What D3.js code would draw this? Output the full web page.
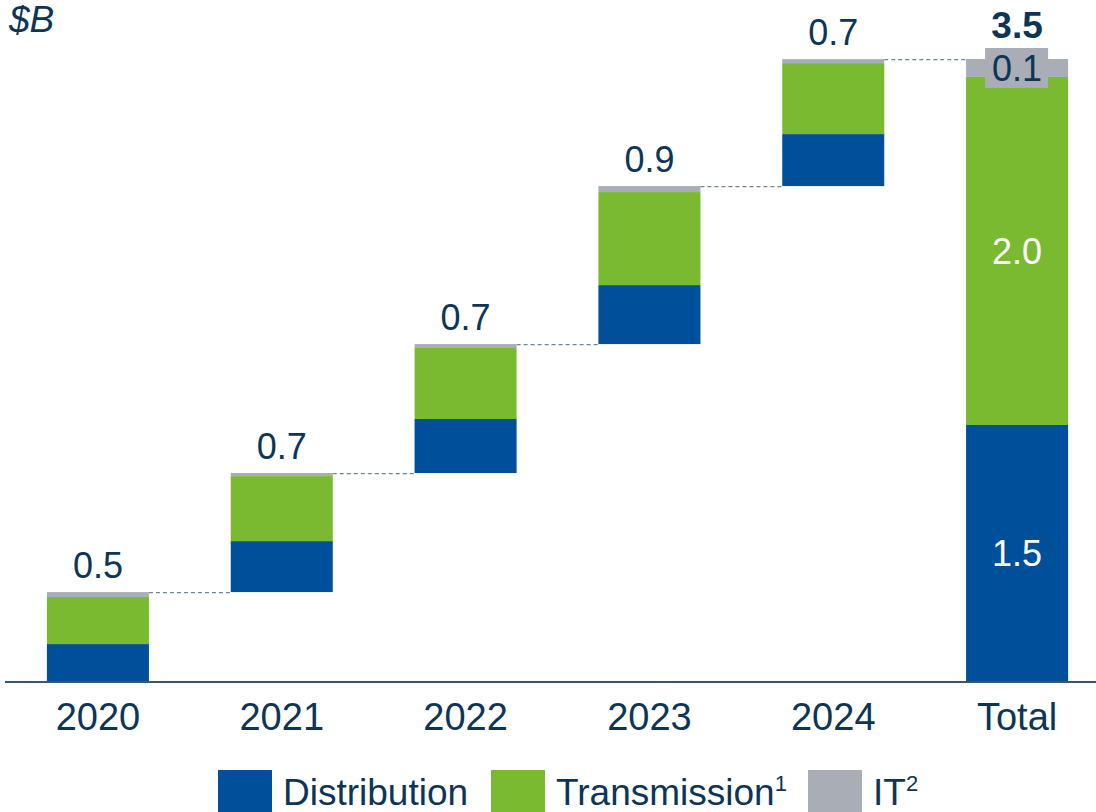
<!DOCTYPE html>
<html>
<head>
<meta charset="utf-8">
<script src="https://cdn.jsdelivr.net/npm/d3@7"></script>
<style>
  body { margin: 0; background: #fff; }
  svg text { font-family: "Liberation Sans", Arial, sans-serif; fill: #0c3557; }
</style>
</head>
<body>
<svg id="chart" width="1096" height="812"></svg>
<script>
// values ($B)
let categories = ["2020", "2021", "2022", "2023", "2024"];
let distribution = [0.216, 0.298, 0.316, 0.345, 0.304];
let transmission = [0.275, 0.380, 0.415, 0.544, 0.415];
let itSpend = [0.029, 0.018, 0.023, 0.035, 0.023];
let yearLabels = ["0.5", "0.7", "0.7", "0.9", "0.7"];

let totalName = "Total";
let totalValues = [1.497, 2.035, 0.105]; // distribution, transmission, IT
let totalSegLabels = ["1.5", "2.0", "0.1"];
let totalLabel = "3.5";

let seriesNames = ["Distribution", "Transmission", "IT"];
let seriesSup = ["", "1", "2"];
let colors = ["#004f9a", "#7aba31", "#a9adb5"];

let svg = d3.select("#chart");
let baseY = 681;

let x = d3.scaleBand()
  .domain(categories.concat([totalName]))
  .range([6, 1109])
  .paddingInner(0.445)
  .paddingOuter(0.2225);

let grandTotal = d3.sum(totalValues);
let y = d3.scaleLinear().domain([0, grandTotal]).range([baseY, 59]);

// build waterfall segments
let segs = [];
let tops = [];
let running = 0;
categories.forEach((c, i) => {
  let vals = [distribution[i], transmission[i], itSpend[i]];
  let start = running;
  vals.forEach((v, k) => {
    segs.push({cat: c, k: k, y0: running, y1: running + v});
    running += v;
  });
  tops.push({cat: c, base: start, top: running, label: yearLabels[i]});
});
let tr = 0;
totalValues.forEach((v, k) => {
  segs.push({cat: totalName, k: k, y0: tr, y1: tr + v, label: totalSegLabels[k]});
  tr += v;
});

// dashed connectors
let conn = svg.append("g");
tops.forEach((t, i) => {
  let next = i < tops.length - 1 ? categories[i + 1] : totalName;
  conn.append("line")
    .attr("x1", x(t.cat) + x.bandwidth())
    .attr("x2", x(next))
    .attr("y1", y(t.top) + 0.5)
    .attr("y2", y(t.top) + 0.5)
    .attr("stroke", "#6f879c")
    .attr("stroke-width", 1.3)
    .attr("stroke-dasharray", "4,3");
});

svg.append("g").selectAll("rect")
  .data(segs)
  .enter()
  .append("rect")
  .attr("x", d => x(d.cat))
  .attr("width", x.bandwidth())
  .attr("y", d => y(d.y1))
  .attr("height", d => y(d.y0) - y(d.y1))
  .attr("fill", d => colors[d.k]);

// labels above each year
svg.append("g").selectAll("text")
  .data(tops)
  .enter()
  .append("text")
  .attr("x", d => x(d.cat) + x.bandwidth() / 2)
  .attr("y", d => y(d.top) - 14)
  .attr("text-anchor", "middle")
  .attr("font-size", 36)
  .text(d => d.label);

// total segment labels
let totSegs = segs.filter(d => d.cat === totalName);
totSegs.forEach((d, k) => {
  let cx = x(totalName) + x.bandwidth() / 2;
  let cy = (y(d.y0) + y(d.y1)) / 2;
  if (k === 2) {
    svg.append("rect")
      .attr("x", cx - 32).attr("width", 63)
      .attr("y", cy - 20).attr("height", 40)
      .attr("fill", colors[2]);
  }
  svg.append("text")
    .attr("x", cx)
    .attr("y", cy)
    .attr("dy", "0.36em")
    .attr("text-anchor", "middle")
    .attr("font-size", 36)
    .style("fill", k === 2 ? "#0c3557" : "#fff")
    .text(d.label);
});

svg.append("text")
  .attr("x", x(totalName) + x.bandwidth() / 2)
  .attr("y", 38)
  .attr("text-anchor", "middle")
  .attr("font-size", 37)
  .attr("font-weight", "bold")
  .text(totalLabel);

// axis
let axis = svg.append("g").attr("transform", `translate(0,${baseY})`)
  .call(d3.axisBottom(x).tickSize(0).tickPadding(22));
axis.select(".domain").remove();
axis.selectAll("text")
  .attr("font-size", 38)
  .style("fill", "#0c3557")
  .attr("font-family", "Liberation Sans, Arial, sans-serif");
svg.append("line")
  .attr("x1", 5).attr("x2", 1096)
  .attr("y1", baseY + 1).attr("y2", baseY + 1)
  .attr("stroke", "#3a566f")
  .attr("stroke-width", 2);

// unit
svg.append("text")
  .attr("x", 9).attr("y", 32)
  .attr("font-size", 37)
  .attr("font-style", "italic")
  .text("$B");

// legend
let legX = [218, 491, 808];
let leg = svg.append("g");
seriesNames.forEach((n, i) => {
  leg.append("rect")
    .attr("x", legX[i]).attr("y", 770)
    .attr("width", 54).attr("height", 44)
    .attr("fill", colors[i]);
  let t = leg.append("text")
    .attr("x", legX[i] + 65).attr("y", 805)
    .attr("font-size", 37)
    .text(n);
  if (seriesSup[i]) {
    t.append("tspan")
      .attr("font-size", 22)
      .attr("dy", -14)
      .text(seriesSup[i]);
  }
});
</script>
</body>
</html>
